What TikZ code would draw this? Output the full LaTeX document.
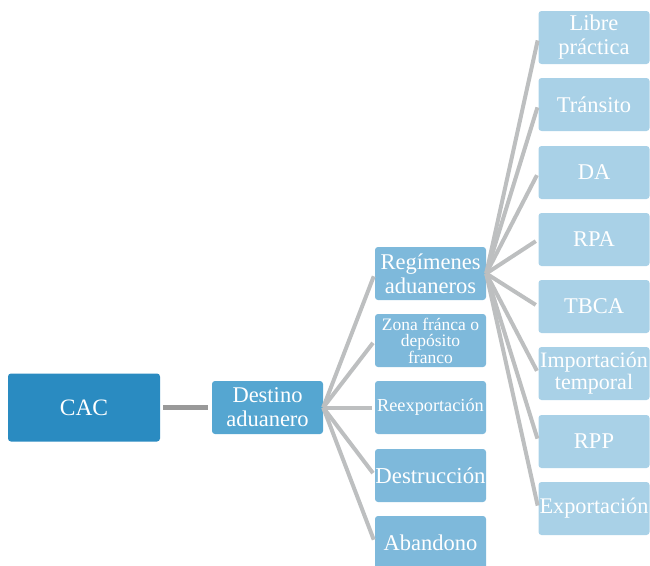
\documentclass[tikz,border=0pt]{standalone}
\usepackage{fontspec}
\setmainfont{Liberation Serif}
\definecolor{cacblue}{HTML}{2A8BC1}
\definecolor{destblue}{HTML}{55A6D1}
\definecolor{midblue}{HTML}{7EB9DB}
\definecolor{lightblue}{HTML}{A9D1E7}
\definecolor{linegray}{HTML}{BDBFC0}
\definecolor{rootgray}{HTML}{999999}
\tikzset{
  box/.style={rounded corners=3pt, text=white, align=center, inner sep=0pt,
    minimum width=111pt, minimum height=53pt, font=\fontsize{22.5}{24}\selectfont},
  link/.style={draw=linegray, line width=4pt, shorten >=3pt},
}

\begin{document}
\begin{tikzpicture}[x=1pt,y=-1pt]
\clip (0,0) rectangle (650,565);
% root and first level
\node[box, fill=cacblue, minimum width=152pt, minimum height=68pt, font=\fontsize{23.5}{25}\selectfont] (cac) at (84,407.5) {CAC};
\node[box, fill=destblue] (destino) at (267.5,407.5) {Destino\\aduanero};
% second level
\node[box, fill=midblue] (regimenes) at (430.5,273.5) {Regímenes\\aduaneros};
\node[box, fill=midblue, font=\fontsize{17.5}{16}\selectfont] (zona) at (430.5,340.5) {Zona fránca o\\depósito\\franco};
\node[box, fill=midblue, font=\fontsize{18.3}{19}\selectfont] (reexp) at (430.5,407.5) {Reexportación};
\node[box, fill=midblue, font=\fontsize{22.8}{25}\selectfont] (destruccion) at (430.5,475.5) {Destrucción};
\node[box, fill=midblue, font=\fontsize{22.5}{25}\selectfont] (abandono) at (430.5,542.5) {Abandono};
% third level
\node[box, fill=lightblue] (libre) at (594,37.5) {Libre\\práctica};
\node[box, fill=lightblue] (transito) at (594,104.5) {Tránsito};
\node[box, fill=lightblue] (da) at (594,172.5) {DA};
\node[box, fill=lightblue] (rpa) at (594,239.5) {RPA};
\node[box, fill=lightblue] (tbca) at (594,306.5) {TBCA};
\node[box, fill=lightblue, font=\fontsize{22}{22}\selectfont] (importacion) at (594,373.5) {Importación\\temporal};
\node[box, fill=lightblue] (rpp) at (594,441.5) {RPP};
\node[box, fill=lightblue, font=\fontsize{22.3}{22}\selectfont] (exportacion) at (594,508.5) {Exportación};
% connectors
\draw[draw=rootgray, line width=4.5pt, shorten <=3pt, shorten >=4pt] (cac.east) -- (destino.west);
\draw[link] (destino.east) -- (regimenes.west);
\draw[link] (destino.east) -- (zona.west);
\draw[link] (destino.east) -- (reexp.west);
\draw[link] (destino.east) -- (destruccion.west);
\draw[link] (destino.east) -- (abandono.west);
\draw[link] (regimenes.east) -- (libre.west);
\draw[link] (regimenes.east) -- (transito.west);
\draw[link] (regimenes.east) -- (da.west);
\draw[link] (regimenes.east) -- (rpa.west);
\draw[link] (regimenes.east) -- (tbca.west);
\draw[link] (regimenes.east) -- (importacion.west);
\draw[link] (regimenes.east) -- (rpp.west);
\draw[link] (regimenes.east) -- (exportacion.west);
\end{tikzpicture}
\end{document}
